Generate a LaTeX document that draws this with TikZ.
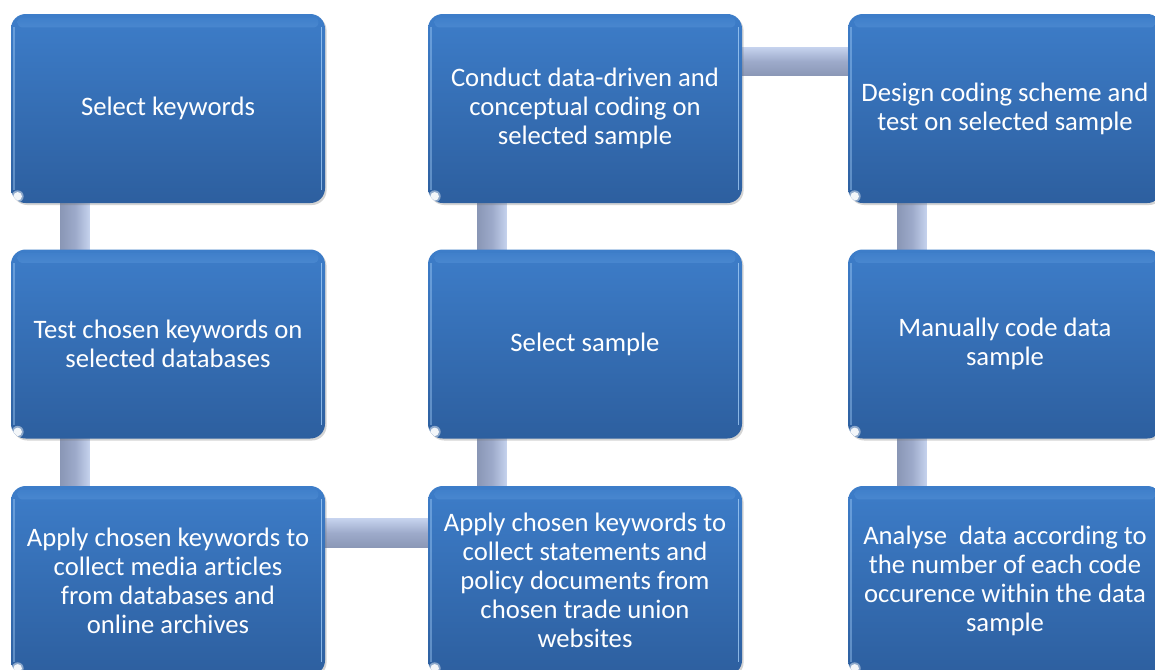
\documentclass[tikz,border=0pt]{standalone}
\usepackage{fontspec}
\setmainfont{Carlito}[Ligatures=NoCommon]
\usetikzlibrary{calc,shadows,backgrounds}

\definecolor{boxtop}{HTML}{3D7DC9}
\definecolor{boxbot}{HTML}{2D5F9F}
\definecolor{boxhl}{HTML}{92C4F4}
\definecolor{boxedge}{HTML}{A9D2FA}
\definecolor{conlight}{HTML}{C6D3EE}
\definecolor{conmid}{HTML}{9DAACA}
\definecolor{condark}{HTML}{8A97B6}

\tikzset{
  stepbox/.style={
    rounded corners=11pt,
    minimum width=235.5pt, minimum height=141.75pt,
    top color=boxtop, bottom color=boxbot,
    text=white, align=center,
    font=\fontsize{20pt}{21.75pt}\selectfont,
    drop shadow={shadow xshift=1.2pt, shadow yshift=-1.5pt, opacity=0.3, fill=black!55},
    path picture={
      % glossy band along the top edge
      \shade[top color=boxtop, bottom color=boxtop, middle color=boxhl, rounded corners=3pt]
        ($(path picture bounding box.north west)+(5pt,-2.5pt)$) rectangle
        ($(path picture bounding box.north east)+(-5pt,-10pt)$);
      % light rim on the right side
      \draw[boxedge, line width=1.1pt, opacity=0.75]
        ($(path picture bounding box.north east)+(-2.6pt,-10pt)$) --
        ($(path picture bounding box.south east)+(-2.6pt,10pt)$);
      \draw[boxedge, line width=0.9pt, opacity=0.4]
        ($(path picture bounding box.north west)+(2.2pt,-10pt)$) --
        ($(path picture bounding box.south west)+(2.2pt,10pt)$);
      % white spot in the lower left corner
      \fill[white, opacity=0.45]
        ($(path picture bounding box.south west)+(5pt,5pt)$) circle (4.5pt);
      \fill[white, opacity=0.9]
        ($(path picture bounding box.south west)+(5pt,5pt)$) circle (3.2pt);
    }
  },
  vconn/.style={left color=condark, right color=conlight, middle color=conmid},
  hconn/.style={top color=conlight, bottom color=condark, middle color=conmid},
}

\begin{document}
\begin{tikzpicture}[x=0.75pt, y=-0.75pt]
\useasboundingbox (0,0) rectangle (1155,669);

% first column
\node[stepbox] (b11) at (168,108.5) {Select keywords};
\node[stepbox] (b21) at (168,344) {Test chosen keywords on\\selected databases};
\node[stepbox] (b31) at (168,580.5) {Apply chosen keywords to\\collect media articles\\from databases and\\online archives};

% second column
\node[stepbox] (b12) at (585,108.5) {Conduct data-driven and\\conceptual coding on\\selected sample};
\node[stepbox] (b22) at (585,344) {Select sample};
\node[stepbox] (b32) at (585,580.5) {Apply chosen keywords to\\collect statements and\\policy documents from\\chosen trade union\\websites};

% third column
\node[stepbox] (b13) at (1005,108.5) {Design coding scheme and\\test on selected sample};
\node[stepbox] (b23) at (1005,344) {Manually code data\\sample};
\node[stepbox] (b33) at (1005,580.5) {Analyse~ data according to\\the number of each code\\occurence within the data\\sample};

% white page and connecting bars behind the boxes
\begin{scope}[on background layer]
  \fill[white] (0,0) rectangle (1155,669);
  \foreach \a/\b in {b11/b21, b21/b31, b12/b22, b22/b32, b13/b23, b23/b33}{
    \shade[vconn]
      ($(\a.south west)!0.205!(\a.south east)+(-11pt,2pt)$) rectangle
      ($(\b.north west)!0.205!(\b.north east)+(11pt,-2pt)$);
  }
  \shade[hconn]
    ($(b31.north east)+(-2pt,-24.5pt)$) rectangle
    ($(b32.north west)+(2pt,-46.5pt)$);
  \shade[hconn]
    ($(b12.north east)+(-2pt,-25pt)$) rectangle
    ($(b13.north west)+(2pt,-46.5pt)$);
\end{scope}
\end{tikzpicture}
\end{document}
